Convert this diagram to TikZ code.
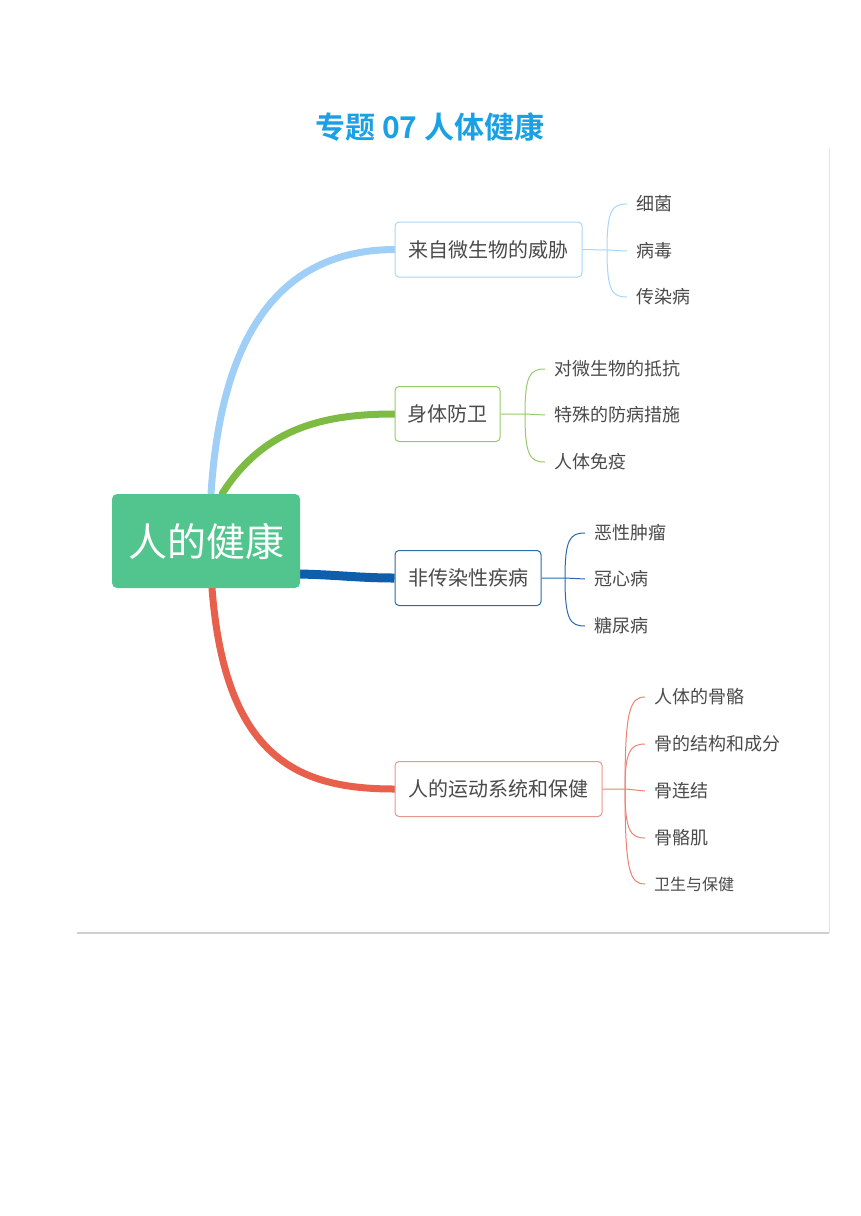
\documentclass[tikz,border=0pt]{standalone}
\usepackage{fontspec}
\setmainfont{Noto Sans CJK SC}
\newfontfamily\titlefont{Noto Sans CJK SC Bold}
\usetikzlibrary{backgrounds}
\definecolor{titleblue}{HTML}{1AA0E4}
\definecolor{rootgreen}{HTML}{52C48E}
\definecolor{lblue}{HTML}{9FCFF7}
\definecolor{lbluebd}{HTML}{A9D6F5}
\definecolor{lgreen}{HTML}{7DBB42}
\definecolor{lgreenbd}{HTML}{98CA6C}
\definecolor{dblue}{HTML}{0E5EAB}
\definecolor{dbluebd}{HTML}{2A6AAA}
\definecolor{lred}{HTML}{E8604C}
\definecolor{lredbd}{HTML}{EA958E}
\definecolor{txt}{HTML}{4A4A4A}
\definecolor{framegray}{HTML}{D0D0D0}
\tikzset{
  branchbox/.style={draw, line width=1pt, rounded corners=4pt, fill=white, text=txt,
    font=\fontsize{20}{24}\selectfont, minimum height=55pt, inner sep=0pt},
  leaf/.style={anchor=west, text=txt, font=\fontsize{18}{22}\selectfont, inner xsep=9pt, inner ysep=0pt},
  smallleaf/.style={leaf, font=\fontsize{16}{20}\selectfont},
  mainline/.style={line width=7pt, line cap=round},
  braceline/.style={line width=1pt},
}
\begin{document}
\begin{tikzpicture}[x=1pt,y=-1pt]
\useasboundingbox (0,0) rectangle (860,1216);
% frame
\draw[framegray!60, line width=1pt] (829,148) -- (829,933);
\draw[framegray, line width=1.2pt] (77,933) -- (829,933);
% title
\node[text=titleblue, font=\titlefont\fontsize{30}{34}\selectfont] (title) at (430,127) {专题 07 人体健康};

% root
\node[fill=rootgreen, rounded corners=5pt, minimum width=188pt, minimum height=94pt, inner sep=0pt,
  text=white, font=\fontsize{39}{44}\selectfont] (root) at (206,541) {人的健康};

% branch boxes
\node[branchbox, draw=lbluebd, minimum width=187pt] (b1) at (488.5,249.5) {来自微生物的威胁};
\node[branchbox, draw=lgreenbd, minimum width=105pt] (b2) at (447.5,414) {身体防卫};
\node[branchbox, draw=dbluebd, minimum width=146pt] (b3) at (468,578) {非传染性疾病};
\node[branchbox, draw=lredbd, minimum width=207pt] (b4) at (498.5,789) {人的运动系统和保健};

% main connectors
\coordinate (r1) at (211,494);
\coordinate (r2) at (222,494);
\coordinate (r3) at (300,574);
\coordinate (r4) at (212,588);
\begin{scope}[on background layer]
\draw[mainline, lblue] (r1) .. controls (222,320) and (290,250) .. (b1.west);
\draw[mainline, lgreen] (r2) .. controls (265,425) and (330,414) .. (b2.west);
\draw[mainline, dblue, line width=9pt, line cap=butt] (r3) .. controls (340,575) and (360,578) .. (b3.west);
\draw[mainline, lred] (r4) .. controls (225,760) and (300,789) .. (b4.west);
\end{scope}

% branch 1 leaves
\node[leaf] (c11) at (627,204) {细菌};
\node[leaf] (c12) at (627,251) {病毒};
\node[leaf] (c13) at (627,297) {传染病};
\coordinate (s1) at (607,250);
\draw[braceline, lbluebd] (b1.east) -- (s1) -- (c12.west);
\draw[braceline, lbluebd] (s1) .. controls (607,210) and (612,204) .. (c11.west);
\draw[braceline, lbluebd] (s1) .. controls (607,291) and (612,297) .. (c13.west);

% branch 2 leaves
\node[leaf] (c21) at (545,369) {对微生物的抵抗};
\node[leaf] (c22) at (545,415) {特殊的防病措施};
\node[leaf] (c23) at (545,462) {人体免疫};
\coordinate (s2) at (525,414);
\draw[braceline, lgreenbd] (b2.east) -- (s2) -- (c22.west);
\draw[braceline, lgreenbd] (s2) .. controls (525,375) and (530,369) .. (c21.west);
\draw[braceline, lgreenbd] (s2) .. controls (525,456) and (530,462) .. (c23.west);

% branch 3 leaves
\node[leaf] (c31) at (585,533) {恶性肿瘤};
\node[leaf] (c32) at (585,579) {冠心病};
\node[leaf] (c33) at (585,626) {糖尿病};
\coordinate (s3) at (565,578);
\draw[braceline, dbluebd] (b3.east) -- (s3) -- (c32.west);
\draw[braceline, dbluebd] (s3) .. controls (565,539) and (570,533) .. (c31.west);
\draw[braceline, dbluebd] (s3) .. controls (565,620) and (570,626) .. (c33.west);

% branch 4 leaves
\node[leaf] (c41) at (645,697) {人体的骨骼};
\node[leaf] (c42) at (645,744) {骨的结构和成分};
\node[leaf] (c43) at (645,791) {骨连结};
\node[leaf] (c44) at (645,838) {骨骼肌};
\node[smallleaf] (c45) at (645,884) {卫生与保健};
\coordinate (s4) at (625,789);
\draw[braceline, lred!80] (b4.east) -- (s4) -- (c43.west);
\draw[braceline, lred!80] (s4) .. controls (625,710) and (630,697) .. (c41.west);
\draw[braceline, lred!80] (s4) .. controls (625,752) and (630,744) .. (c42.west);
\draw[braceline, lred!80] (s4) .. controls (625,830) and (630,838) .. (c44.west);
\draw[braceline, lred!80] (s4) .. controls (625,872) and (630,884) .. (c45.west);
\end{tikzpicture}
\end{document}
